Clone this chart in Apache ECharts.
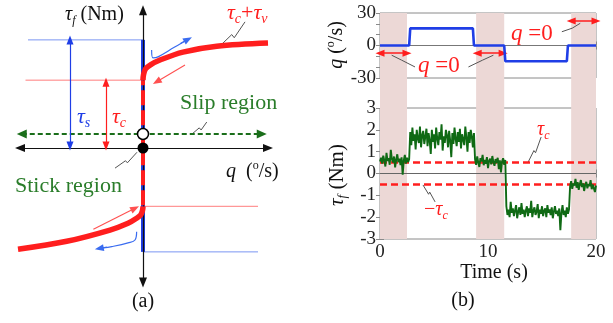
<!DOCTYPE html>
<html><head><meta charset="utf-8">
<script src="https://cdn.jsdelivr.net/npm/echarts@6/dist/echarts.min.js"></script>
<style>html,body{margin:0;padding:0;background:#fff}#c{width:613px;height:323px}</style>
</head><body><div id="c"></div>
<script>
// ================= panel (b) data =================
const timeTicks = [0, 10, 20];
const qTicks = [-30, 0, 30];
const torqueTicks = [-3, -2, -1, 0, 1, 2, 3];
const qTimes  = [0, 2.7, 2.8, 8.6, 8.7, 11.5, 11.6, 17.3, 17.4, 20];
const qValues = [0, 0, 15.8, 15.8, 0, 0, -14.5, -14.5, 0, 0];
const torqueStart = 0;
const torqueStep = 0.1;
const torqueValues = [
  0.55,0.72,0.45,0.82,0.60,0.32,0.95,0.58,0.70,0.40,1.08,0.66,0.50,0.78,0.28,0.63,0.88,0.52,0.68,0.38,0.74,-0.05,0.60,0.85,0.45,0.72,0.52,0.66,
  1.9,1.3,2.1,1.5,1.8,1.1,2.0,1.6,1.4,2.15,1.2,1.75,1.95,1.35,1.7,2.05,1.25,1.85,1.5,0.9,2.0,1.45,1.8,1.15,2.1,1.6,1.3,1.9,1.55,2.25,1.05,1.7,1.4,2.0,1.75,1.2,1.95,1.5,0.75,1.85,1.35,2.1,1.6,1.25,1.9,1.45,2.05,1.15,1.8,1.55,1.3,2.15,1.65,1.0,1.9,1.4,2.0,1.7,1.2,1.85,
  0.65,0.40,0.78,0.50,0.30,0.70,0.55,0.85,0.38,0.62,0.45,0.75,0.25,0.58,0.68,0.42,0.80,0.52,0.35,0.66,0.48,0.72,0.20,0.60,0.05,0.55,0.70,0.40,0.62,
  -1.5,-1.9,-1.65,-2.0,-1.3,-1.8,-1.6,-1.95,-1.7,-1.45,-2.05,-1.75,-1.55,-1.9,-1.35,-1.85,-1.65,-2.0,-1.7,-1.5,-1.95,-1.6,-1.8,-1.25,-2.0,-1.7,-1.55,-1.9,-1.75,-1.4,-2.05,-1.65,-1.85,-1.5,-1.95,-1.7,-1.6,-2.0,-1.45,-1.8,-1.65,-1.9,-1.55,-2.05,-1.75,-1.5,-1.85,-1.7,-1.95,-1.6,-2.6,-1.8,-1.45,-1.9,-1.7,-2.0,-1.55,-1.85,-1.65,
  -0.6,-0.35,-0.7,-0.45,-0.55,-0.25,-0.65,-0.4,-0.75,-0.5,-0.3,-0.62,-0.45,-0.8,-0.52,-0.38,-0.68,-0.48,-0.58,-0.3,-0.72,-0.5,-0.42,-0.85,-0.55
];
const coulombTorque = 0.5;
const stickIntervals = [[0, 2.5], [8.9, 11.5], [17.7, 20]];
const qZeroArrows = [[[0, -7.1], [2.5, -7.1]], [[9.0, -7.1], [11.4, -7.1]], [[17.7, 22.6], [20, 22.6]]];
const qLeaders = [
  [[1.08, -8.95], [2.0, -13.5], [2.15, -12.0], [3.24, -19.8]],
  [[10.5, -8.95], [9.5, -13.5], [9.35, -12.0], [8.19, -19.8]],
  [[18.54, 20.5], [17.8, 16.0], [17.65, 17.5], [16.84, 12.7]]
];
const torqueLeaders = [
  [[13.72, 0.525], [14.25, 1.05], [14.4, 0.95], [14.92, 1.67]],
  [[3.98, -0.525], [4.5, -0.95], [4.6, -0.85], [5.1, -1.3]]
];

// ================= panel (a) schematic data =================
const qRangeA = [-1, 1];
const tauRangeA = [-1.3, 1.3];
const staticLevels = [1.02, -0.98];     // +tau_s , -tau_s
const coulombLevels = [0.64, -0.55];    // +tau_c , -tau_c
const staticLineSpan = [-0.92, 0.92];
const coulombLineSpan = [-0.94, 0.92];
const stribeckPos = [[0, 0.64], [0.004, 0.69], [0.02, 0.745], [0.06, 0.785], [0.136, 0.83], [0.32, 0.905], [0.59, 0.96], [1.0, 0.99]];
const stribeckNeg = [[0, -0.55], [-0.004, -0.59], [-0.018, -0.63], [-0.048, -0.66], [-0.12, -0.71], [-0.264, -0.774], [-0.61, -0.88], [-1.0, -0.955]];
const slipLevel = 0.132;
const slipSpan = [-0.97, 0.95];
const qAxisSpan = [-0.984, 1.0];
const tauAxisSpan = [-1.27, 1.3];
const tauSArrowQ = -0.584, tauCArrowQ = -0.296, arrowBase = 0.02;
const hookPos = [[0.069, 0.925], [0.08, 0.85], [0.12, 0.86], [0.25, 0.95], [0.33, 1.005]];
const hookPosHead = [[0.30, 0.985], [0.36, 1.025]];
const hookNeg = [[-0.051, -0.79], [-0.064, -0.868], [-0.12, -0.895], [-0.25, -0.93], [-0.32, -0.942]];
const hookNegHead = [[-0.29, -0.935], [-0.35, -0.948]];
const redArrowPos = [[0.336, 0.783], [0.11, 0.625]];
const redArrowNeg = [[-0.397, -0.767], [-0.064, -0.569]];
const leadersA = [
  [[0.64, 0.99], [0.71, 1.07], [0.73, 1.04], [0.816, 1.19]],
  [[0.40, 0.14], [0.45, 0.19], [0.465, 0.17], [0.51, 0.245]],
  [[-0.224, -0.19], [-0.14, -0.12], [-0.125, -0.14], [-0.048, -0.04]]
];

// ================= styles =================
const SERIF = '"Liberation Serif","Times New Roman",serif';
const RED = '#ff1e1e', BLUE = '#1f3ee6', GREEN = '#0f6a14', TGREEN = '#2a7d2a';
const LBLUE = '#7b95f2', LRED = '#ff7d7d', GRAY = '#555';

const torqueData = torqueValues.map((v, i) => [+(torqueStart + i * torqueStep).toFixed(2), v]);
const qData = qTimes.map((t, i) => [t, qValues[i]]);
const seg = (a, b) => [{ coord: a }, { coord: b }];

function lineS(xi, yi, data, style, extra) {
  return Object.assign({ type: 'line', xAxisIndex: xi, yAxisIndex: yi, data: data, symbol: 'none', silent: true,
    clip: false, animation: false, lineStyle: style }, extra || {});
}
function arrowS(xi, yi, segs, color, width, both, size, type) {
  return {
    type: 'line', xAxisIndex: xi, yAxisIndex: yi, data: [], symbol: 'none', silent: true, clip: false, animation: false,
    markLine: {
      silent: true, animation: false, symbol: [both ? 'triangle' : 'none', 'triangle'], symbolSize: size,
      label: { show: false }, emphasis: { disabled: true },
      lineStyle: { color: color, width: width, type: type || 'solid' },
      data: segs.map(s => seg(s[0], s[1]))
    }
  };
}

// ---------- text helpers ----------
function rich(size, color) {
  return {
    i: { fontFamily: SERIF, fontStyle: 'italic', fontSize: size, fill: color, lineHeight: size + 4 },
    n: { fontFamily: SERIF, fontSize: size, fill: color, lineHeight: size + 4 },
    s: { fontFamily: SERIF, fontStyle: 'italic', fontSize: Math.round(size * 0.62), fill: color, verticalAlign: 'bottom', lineHeight: Math.round(size * 0.62) },
    sup: { fontFamily: SERIF, fontSize: Math.round(size * 0.6), fill: color, verticalAlign: 'top', lineHeight: Math.round(size * 0.6) }
  };
}
function txt(x, y, text, size, color, align, rot) {
  return { type: 'text', x: x, y: y, rotation: rot || 0, silent: true, z: 100,
    style: { text: text, rich: rich(size, color), fill: color, font: size + 'px ' + SERIF,
      align: align || 'left', verticalAlign: 'middle' } };
}

const axisGray = '#8a8a8a';
function xAx(gi, pos, labels) {
  return { gridIndex: gi, type: 'value', position: pos, min: timeTicks[0], max: timeTicks[timeTicks.length - 1],
    interval: timeTicks[1] - timeTicks[0],
    axisLine: { show: false }, splitLine: { show: false },
    axisTick: { show: true, inside: true, length: 4, lineStyle: { color: axisGray } },
    axisLabel: { show: labels, margin: 4, fontFamily: SERIF, fontSize: 19, color: '#222' } };
}
function yAx(gi, pos, ticks, labels, minor) {
  return { gridIndex: gi, type: 'value', position: pos, min: ticks[0], max: ticks[ticks.length - 1],
    interval: ticks[1] - ticks[0],
    axisLine: { show: false }, splitLine: { show: false },
    axisTick: { show: true, inside: true, length: 4, lineStyle: { color: axisGray } },
    minorTick: { show: !!minor, splitNumber: 3, length: 4, lineStyle: { color: axisGray } },
    axisLabel: { show: labels, margin: 4, fontFamily: SERIF, fontSize: 19, color: '#222' } };
}

const option = {
  animation: false,
  backgroundColor: '#fff',
  grid: [
    { left: 18, top: 10.2, width: 250, height: 275.6, show: false },
    { left: 380, top: 13, width: 216, height: 226, show: false },
    { left: 380, top: 13, width: 216, height: 65, show: true, borderColor: axisGray, borderWidth: 1, backgroundColor: 'transparent' },
    { left: 380, top: 108, width: 216, height: 131, show: true, borderColor: axisGray, borderWidth: 1, backgroundColor: 'transparent' }
  ],
  xAxis: [
    { gridIndex: 0, type: 'value', min: qRangeA[0], max: qRangeA[1], show: false },
    { gridIndex: 1, type: 'value', min: timeTicks[0], max: timeTicks[timeTicks.length - 1], show: false },
    xAx(2, 'bottom', false), xAx(2, 'top', false),
    xAx(3, 'bottom', true), xAx(3, 'top', false)
  ],
  yAxis: [
    { gridIndex: 0, type: 'value', min: tauRangeA[0], max: tauRangeA[1], show: false },
    { gridIndex: 1, type: 'value', min: 0, max: 1, show: false },
    yAx(2, 'left', qTicks, true, true), yAx(2, 'right', qTicks, false, true),
    yAx(3, 'left', torqueTicks, true, false), yAx(3, 'right', torqueTicks, false, false)
  ],
  series: [
    // ---------- panel (b) ----------
    { type: 'line', xAxisIndex: 1, yAxisIndex: 1, data: [], silent: true, z: 0,
      markArea: { silent: true, itemStyle: { color: '#ecd8d6' }, data: stickIntervals.map(iv => [{ xAxis: iv[0] }, { xAxis: iv[1] }]) } },
    lineS(2, 2, qData, { color: BLUE, width: 2.6 }, { z: 5, markLine: { silent: true, symbol: 'none', label: { show: false },
      lineStyle: { color: '#777', width: 1, type: 'solid' }, data: [{ yAxis: 0 }] } }),
    lineS(4, 4, torqueData, { color: GREEN, width: 1.9 }, { z: 5, markLine: { silent: true, symbol: 'none', label: { show: false },
      lineStyle: { color: '#666', width: 1, type: 'solid' }, data: [{ yAxis: 0 }] } }),
    lineS(4, 4, [], {}, { z: 6, markLine: { silent: true, symbol: 'none', label: { show: false },
      lineStyle: { color: RED, width: 2.6, type: [7, 4] }, data: [{ yAxis: coulombTorque }, { yAxis: -coulombTorque }] } }),
    arrowS(2, 2, qZeroArrows, RED, 1.5, true, [7, 9]),
    ...qLeaders.map(l => lineS(2, 2, l, { color: GRAY, width: 1 })),
    ...torqueLeaders.map(l => lineS(4, 4, l, { color: GRAY, width: 1 })),

    // ---------- panel (a) ----------
    lineS(0, 0, [[staticLineSpan[0], staticLevels[0]], [0, staticLevels[0]]], { color: LBLUE, width: 1 }),
    lineS(0, 0, [[0, staticLevels[1]], [staticLineSpan[1], staticLevels[1]]], { color: LBLUE, width: 1 }),
    lineS(0, 0, [[coulombLineSpan[0], coulombLevels[0]], [0, coulombLevels[0]]], { color: LRED, width: 1 }),
    lineS(0, 0, [[0, coulombLevels[1]], [coulombLineSpan[1], coulombLevels[1]]], { color: LRED, width: 1 }),
    arrowS(0, 0, [[[qAxisSpan[0], 0], [qAxisSpan[1], 0]], [[0, tauAxisSpan[0]], [0, tauAxisSpan[1]]]], '#111', 1.2, true, [8, 10]),
    arrowS(0, 0, [[[slipSpan[0], slipLevel], [slipSpan[1], slipLevel]]], '#1a6e1a', 2, true, [9, 10], [5, 3]),
    arrowS(0, 0, [[[tauSArrowQ, arrowBase], [tauSArrowQ, staticLevels[0]]]], BLUE, 1.2, true, [7, 9]),
    arrowS(0, 0, [[[tauCArrowQ, arrowBase], [tauCArrowQ, coulombLevels[0] - 0.02]]], RED, 1.2, true, [7, 9]),
    lineS(0, 0, [[0, staticLevels[0]], [0, staticLevels[1]]], { color: BLUE, width: 4 }, { z: 4 }),
    lineS(0, 0, [[0, coulombLevels[0]], [0, coulombLevels[1]]], { color: RED, width: 4, type: [15, 5], dashOffset: 10 }, { z: 5 }),
    lineS(0, 0, stribeckPos, { color: RED, width: 5.5 }, { smooth: 0.35, z: 5 }),
    lineS(0, 0, stribeckNeg, { color: RED, width: 5.5 }, { smooth: 0.35, z: 5 }),
    lineS(0, 0, hookPos, { color: '#3a6cf0', width: 1.2 }, { smooth: 0.4 }),
    arrowS(0, 0, [hookPosHead], '#3a6cf0', 1.2, false, [7, 9]),
    lineS(0, 0, hookNeg, { color: '#3a6cf0', width: 1.2 }, { smooth: 0.4 }),
    arrowS(0, 0, [hookNegHead], '#3a6cf0', 1.2, false, [7, 9]),
    arrowS(0, 0, [redArrowPos, redArrowNeg], '#ff5050', 1.1, false, [7, 9]),
    ...leadersA.map(l => lineS(0, 0, l, { color: GRAY, width: 1 })),
    { type: 'scatter', xAxisIndex: 0, yAxisIndex: 0, silent: true, z: 10, symbolSize: 11, data: [[0, slipLevel]],
      itemStyle: { color: '#fff', borderColor: '#000', borderWidth: 1.5, opacity: 1 } },
    { type: 'scatter', xAxisIndex: 0, yAxisIndex: 0, silent: true, z: 10, symbolSize: 11, data: [[0, 0]],
      itemStyle: { color: '#000', opacity: 1 } }
  ],
  graphic: [
    // panel (a)
    txt(65, 15, '{i|τ}{s|f}{n| (Nm)}', 20, '#111'),
    txt(227, 13, '{i|τ}{s|c}{n|+}{i|τ}{s|v}', 22, RED),
    txt(180, 103, 'Slip region', 22, TGREEN),
    txt(15, 186, 'Stick region', 22, TGREEN),
    txt(77, 117, '{i|τ}{s|s}', 22, BLUE),
    txt(112, 117, '{i|τ}{s|c}', 22, RED),
    txt(226, 172, '{i|q}{n|  (}{sup|o}{n|/s)}', 20, '#111'),
    txt(143, 302, '(a)', 20, '#111', 'center'),
    // panel (b)
    txt(337, 45, '{i|q}{n| (}{sup|o}{n|/s)}', 20, '#111', 'center', Math.PI / 2),
    txt(337, 175, '{i|τ}{s|f}{n| (Nm)}', 21, '#111', 'center', Math.PI / 2),
    txt(494, 273, 'Time (s)', 20, '#111', 'center'),
    txt(463, 301, '(b)', 20, '#111', 'center'),
    txt(418, 66, '{i|q}{n| =0}', 23, RED),
    txt(511, 34, '{i|q}{n| =0}', 23, RED),
    txt(537, 130, '{i|τ}{s|c}', 20, RED),
    txt(424, 210, '{n|−}{i|τ}{s|c}', 20, RED)
  ]
};
const chart = echarts.init(document.getElementById('c'), null, { renderer: 'canvas', width: 613, height: 323 });
chart.setOption(option);
</script></body></html>
